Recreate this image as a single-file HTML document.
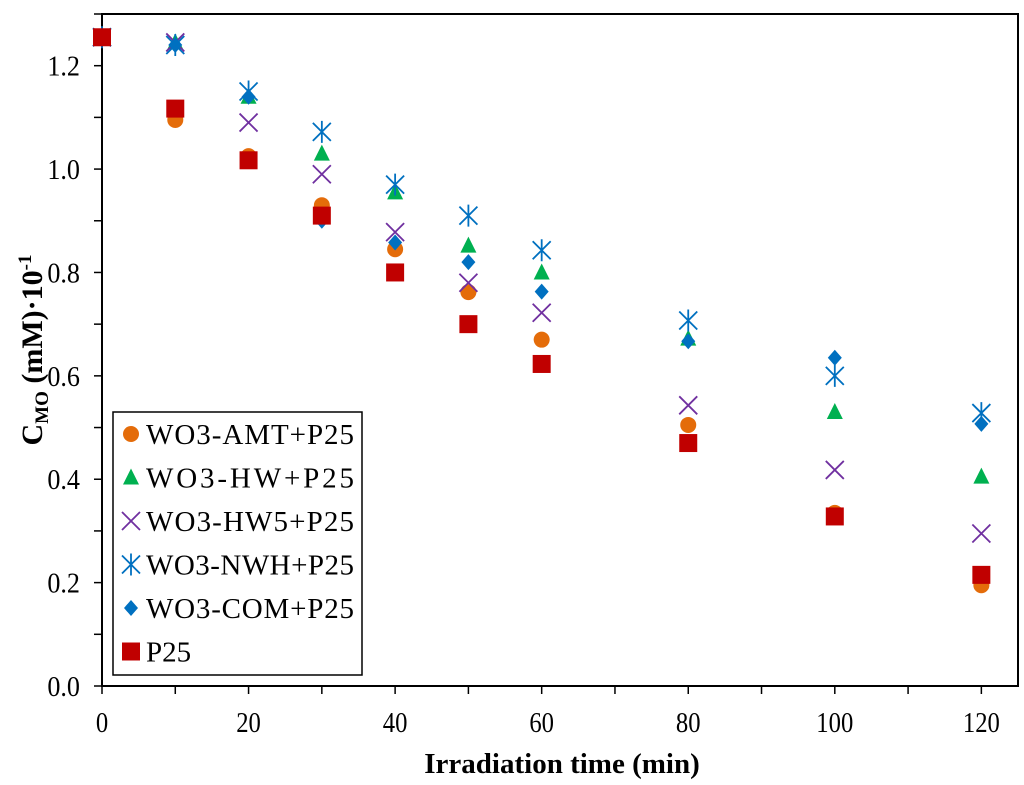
<!DOCTYPE html>
<html><head><meta charset="utf-8"><style>
body{margin:0;background:#fff;}
svg{display:block;font-family:"Liberation Serif",serif;}
</style></head><body>
<svg id="chart" width="1024" height="785">
<g id="axes"></g><g id="marks"></g><g id="legend"></g>
</svg>
<script>
const xs=[0,10,20,30,40,50,60,80,100,120];
const seriesNames=["WO3-AMT+P25","WO3-HW+P25","WO3-HW5+P25","WO3-NWH+P25","WO3-COM+P25","P25"];
const amt=[1.255,1.095,1.025,0.93,0.845,0.762,0.67,0.505,0.335,0.195];
const hw=[1.255,1.245,1.14,1.03,0.955,0.852,0.80,0.672,0.53,0.405];
const hw5=[1.255,1.245,1.09,0.99,0.878,0.78,0.722,0.543,0.418,0.295];
const nwh=[1.255,1.24,1.15,1.072,0.97,0.91,0.843,0.707,0.60,0.528];
const com=[1.255,1.24,1.14,0.90,0.858,0.82,0.763,0.667,0.635,0.507];
const p25=[1.255,1.117,1.017,0.91,0.80,0.70,0.623,0.47,0.328,0.215];
const xTickLabels=["0","20","40","60","80","100","120"];
const yTickLabels=["0.0","0.2","0.4","0.6","0.8","1.0","1.2"];
const NS="http://www.w3.org/2000/svg";
const L=102,R=1018,T=14,B=686;
const X=v=>L+(v/125)*(R-L);
const Y=v=>B-(v/1.3)*(B-T);
function mk(tag,attrs,parent){const e=document.createElementNS(NS,tag);for(const k in attrs)e.setAttribute(k,attrs[k]);parent.appendChild(e);return e;}
const axes=document.getElementById('axes');
let r=mk('rect',{x:L,y:T,width:R-L,height:B-T,fill:'none',stroke:'#000','stroke-width':2},axes);


for(let v=0;v<=120;v+=10){
 let t=mk('line',{x1:X(v),x2:X(v),y1:B,y2:B+8,stroke:'#000','stroke-width':1.5},axes);
 
 
}
xTickLabels.forEach(s=>{
 let t=mk('text',{x:X(+s),y:B+46,'text-anchor':'middle','font-size':29,transform:`translate(${X(+s)},0) scale(0.85,1) translate(${-X(+s)},0)`},axes);
 t.textContent=s;
 
 
});
for(let i=0;i<=13;i++){
 let v=i/10;
 let t=mk('line',{x1:L-8,x2:L,y1:Y(v),y2:Y(v),stroke:'#000','stroke-width':1.5},axes);
 
 
}
yTickLabels.forEach(s=>{
 let t=mk('text',{x:80,y:Y(+s)+10,'text-anchor':'end','font-size':29,transform:`translate(80,0) scale(0.9,1) translate(-80,0)`},axes);
 t.textContent=s;
 
 
});
let xt=mk('text',{x:562,y:773,'text-anchor':'middle','font-size':29,'font-weight':'bold'},axes);
xt.textContent='Irradiation  time (min)';


let yt=mk('text',{x:0,y:0,'text-anchor':'middle','font-size':30,'font-weight':'bold',transform:'translate(42,350) rotate(-90)'},axes);
yt.innerHTML='C<tspan font-size="19" dy="6">MO</tspan><tspan dy="-6"> (mM)·10</tspan><tspan font-size="19" dy="-11">-1</tspan>';



const colors=["#e46c0a","#00b050","#7030a0","#0070c0","#0070c0","#c00000"];
const shapes=["circle","triangle","x","star","diamond","square"];
function marker(shape,color,cx,cy,parent){
 const g=mk('g',{},parent);
 if(shape==="circle")mk('circle',{cx,cy,r:8,fill:color},g);
 if(shape==="triangle")mk('polygon',{points:`${cx},${cy-9} ${cx+8},${cy+7} ${cx-8},${cy+7}`,fill:color},g);
 if(shape==="square")mk('rect',{x:cx-9,y:cy-9,width:18,height:18,fill:color},g);
 if(shape==="diamond")mk('polygon',{points:`${cx},${cy-8} ${cx+7},${cy} ${cx},${cy+8} ${cx-7},${cy}`,fill:color},g);
 if(shape==="x"){mk('path',{d:`M${cx-9} ${cy-9}L${cx+9} ${cy+9}M${cx+9} ${cy-9}L${cx-9} ${cy+9}`,stroke:color,'stroke-width':1.8},g);}
 if(shape==="star"){mk('path',{d:`M${cx-9} ${cy-9}L${cx+9} ${cy+9}M${cx+9} ${cy-9}L${cx-9} ${cy+9}M${cx} ${cy-11}L${cx} ${cy+11}`,stroke:color,'stroke-width':1.8},g);}
 return g;
}
const all=[amt,hw,hw5,nwh,com,p25];
const marks=document.getElementById('marks');
const order=[0,1,2,4,3,5];
order.forEach(si=>{
 all[si].forEach((v,i)=>{
  const m=marker(shapes[si],colors[si],X(xs[i]),Y(v),marks);
  
  
 });
});
const lg=document.getElementById('legend');
let lb=mk('rect',{x:113,y:412,width:249,height:263,fill:'#fff',stroke:'#000','stroke-width':1.5},lg);


seriesNames.forEach((n,i)=>{
 const cy=434+i*43.5;
 const g=mk('g',{},lg);
 
 
 marker(shapes[i],colors[i],131,cy,g);
 const t=mk('text',{x:146,y:cy+10,'font-size':29,'textLength':n.length>3?208:null},g);
 if(n.length<=3)t.removeAttribute('textLength');
 t.textContent=n;
});
</script>
</body></html>
